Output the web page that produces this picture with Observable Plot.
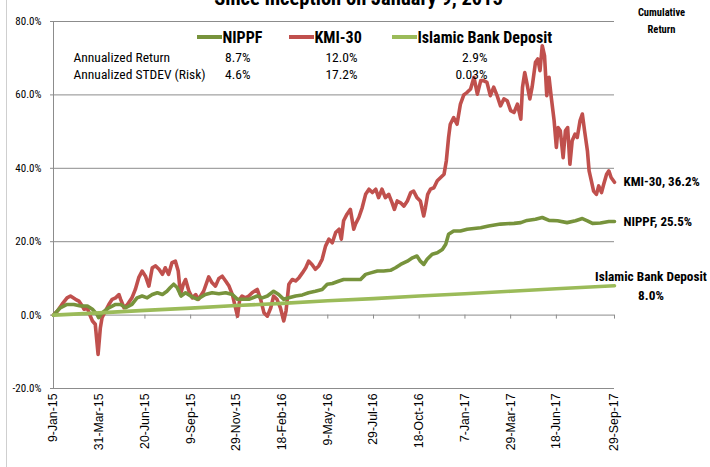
<!DOCTYPE html>
<html><head><meta charset="utf-8">
<script src="https://cdn.jsdelivr.net/npm/d3@7"></script>
<script src="https://cdn.jsdelivr.net/npm/@observablehq/plot@0.6"></script>
<style>
body{margin:0;background:#fff;}
#chart{position:relative;width:710px;height:467px;overflow:hidden;background:#fff;}
</style></head><body><div id="chart"></div>
<script>
// ---------- data ----------
const titleText = "Since Inception on January 9, 2015";
const cornerText = "Cumulative\nReturn";
const startDate = "9-Jan-15";
const tickLabels = ["9-Jan-15","31-Mar-15","20-Jun-15","9-Sep-15","29-Nov-15","18-Feb-16","9-May-16","29-Jul-16","18-Oct-16","7-Jan-17","29-Mar-17","18-Jun-17","29-Sep-17"];
const yTicks = [-20, 0, 20, 40, 60, 80];
const seriesNames = ["NIPPF", "KMI-30", "Islamic Bank Deposit"];
const seriesColors = ["#77933C", "#C0504D", "#9BBB59"];
const rowLabels = ["Annualized Return", "Annualized STDEV (Risk)"];
const annualizedReturn = ["8.7%", "12.0%", "2.9%"];
const annualizedStdev = ["4.6%", "17.2%", "0.03%"];
const finalValues = [25.5, 36.2, 8.0];

// days since inception / cumulative return (%)
const kmiDays = [0,7,15,24,30,39,45,51,54,60,64,69,74,79,83,86,92,98,104,110,116,119,125,131,139,145,151,157,163,169,175,181,187,193,198,204,210,216,221,225,230,234,240,246,252,257,266,275,281,287,293,299,305,311,317,321,326,330,334,340,346,352,361,367,373,379,385,390,396,402,408,412,417,423,429,435,441,447,452,458,464,470,476,482,488,494,500,506,510,514,520,526,532,535,541,547,553,559,565,571,576,582,588,594,600,604,609,615,621,627,633,638,644,650,656,659,663,668,674,680,686,692,696,700,703,709,715,721,727,733,739,745,751,757,762,768,774,780,786,792,798,804,810,816,822,828,831,835,839,844,848,854,858,862,866,870,874,878,882,887,891,894,898,903,907,911,915,919,924,928,933,937,941,946,949,953,957,962,966,971,975,980,984,988,994];
const kmiValues = [0,1.1,2.9,4.7,5.2,4.3,3.8,2.5,1.6,2.0,0.2,-1.6,-2.5,-10.7,-3.5,-0.7,1.1,2.9,4.3,4.7,5.6,4.3,2.0,2.9,4.7,7.0,10.2,12.0,10.6,7.9,12.9,13.4,12.5,11.1,12.9,11.1,14.3,14.7,12.0,5.6,8.4,9.7,6.5,4.7,5.6,4.3,6.5,10.4,8.8,7.9,10.0,10.6,9.3,7.9,5.6,2.9,-0.3,4.3,5.2,4.7,5.2,6.1,7.0,4.3,0.6,-0.3,2.0,5.2,4.3,2.0,-1.6,1.1,8.4,9.7,9.3,10.2,11.5,12.9,14.7,13.8,12.5,13.4,15.2,18.8,20.7,19.7,22.5,23.4,20.7,25.7,27.5,28.8,23.4,24.8,26.6,29.3,32.9,34.3,33.4,34.3,32.0,34.3,32.0,32.9,30.6,28.8,31.1,30.6,29.7,31.1,33.4,33.8,32.0,31.1,27.0,29.3,32.9,34.3,34.7,36.6,37.5,38.4,42.0,48.4,52.0,53.8,52.0,57.5,60.0,60.7,61.6,64.8,60.2,63.9,63.9,63.4,59.8,62.1,59.8,57.0,58.9,58.4,55.7,55.2,57.5,53.4,62.1,66.1,63.0,58.9,62.1,68.9,69.8,66.6,73.4,70.7,59.8,64.8,59.3,53.0,45.7,51.1,50.2,42.9,50.2,51.1,41.1,47.5,49.3,48.4,53.0,54.8,50.2,44.8,39.3,36.6,33.8,32.9,35.2,33.4,35.7,38.4,39.3,37.5,36.2];

const nippfDays = [0,12,24,36,48,60,69,77,80,86,98,110,119,128,139,148,157,166,175,184,193,201,207,213,219,226,234,243,255,269,281,293,305,317,326,334,346,361,370,379,390,399,408,417,429,441,452,464,476,485,494,506,514,526,544,553,562,574,585,597,606,615,627,636,644,650,656,662,671,680,689,695,700,709,721,733,745,757,771,792,816,828,839,854,866,878,893,910,925,937,946,955,969,984,994];
const nippfValues = [0,2.0,2.9,2.9,2.5,2.5,1.6,0.2,-0.7,0.6,2.0,2.9,2.9,2.0,2.9,4.7,5.2,4.7,5.6,6.1,5.6,6.5,7.5,8.4,7.5,5.2,6.1,5.2,4.3,5.6,6.1,5.8,6.1,5.6,4.3,4.3,4.3,5.2,4.7,5.2,6.5,5.6,4.3,4.7,5.2,5.5,6.1,6.5,7.0,8.4,8.6,9.3,9.7,9.7,9.7,11.1,11.5,12.0,12.0,12.2,12.9,13.8,14.7,15.6,16.1,14.7,13.8,15.2,16.6,17.0,17.9,19.3,22.0,22.9,22.9,23.4,23.6,23.8,24.3,24.8,25.0,25.2,25.8,26.1,26.6,25.8,25.7,25.2,25.7,26.3,25.7,25.0,25.1,25.5,25.5];

const depositDays = [0,81,162,243,324,405,486,567,648,729,810,891,994];
const depositValues = [0,0.6,1.3,1.9,2.6,3.2,3.9,4.5,5.2,5.8,6.5,7.2,8.0];

// ---------- build ----------
const parse = d3.utcParse("%d-%b-%y");
const x0 = parse(startDate);
const toDate = d => d3.utcDay.offset(x0, d);
const rows = (days, vals) => days.map((d, i) => ({date: toDate(d), value: vals[i]}));
const seriesData = [rows(nippfDays, nippfValues), rows(kmiDays, kmiValues), rows(depositDays, depositValues)];
const tickDates = tickLabels.map(parse);
const labelOf = new Map(tickDates.map((d, i) => [+d, tickLabels[i]]));
const lastDate = tickDates[tickDates.length - 1];

const W = 710, H = 467, ML = 53, MR = 96, MT = 21, MB = 79;
const grid = "#8c8c8c";
const narrow = "'Liberation Sans Narrow', 'Arial Narrow', 'Roboto Condensed', sans-serif";
const at = (px, py) => ({frameAnchor: "top-left", dx: px - ML, dy: py - MT});

const legendSwatchX = [197, 289, 392];
const swatchLen = 25;
const tableColRight = [250, 357, 487];

const marks = [
  Plot.ruleY(yTicks, {stroke: grid, strokeWidth: 1}),
  Plot.ruleX([tickDates[0]], {stroke: grid}),
  Plot.ruleX(tickDates, {y1: 0, y2: 0, insetBottom: -4, stroke: grid}),
  Plot.axisY({ticks: yTicks, tickFormat: d => d.toFixed(1) + "%", tickSize: 3, tickPadding: 9, fontSize: 11, stroke: grid, fill: "#000", label: null}),
  Plot.axisX({ticks: tickDates, tickFormat: d => labelOf.get(+d), tickRotate: -90, tickSize: 0, tickPadding: 5, fontSize: 12.3, fontFamily: "'Liberation Sans', Arial, sans-serif", fill: "#000", label: null}),
  Plot.line(seriesData[1], {x: "date", y: "value", stroke: seriesColors[1], strokeWidth: 3.6, strokeLinejoin: "round"}),
  Plot.line(seriesData[0], {x: "date", y: "value", stroke: seriesColors[0], strokeWidth: 3.6, strokeLinejoin: "round"}),
  Plot.line(seriesData[2], {x: "date", y: "value", stroke: seriesColors[2], strokeWidth: 3.6, strokeLinejoin: "round"}),
  // title (cut at top) and corner label
  Plot.text([titleText], {...at(358, 4), textAnchor: "middle", lineAnchor: "bottom", fontSize: 20.5, fontWeight: "bold", fill: "#000"}),
  Plot.text([cornerText], {...at(661, 19), textAnchor: "middle", lineAnchor: "middle", fontSize: 10.5, fontWeight: "bold", lineHeight: 1.6, fill: "#000"}),
  // legend swatches and chart-area border
  () => {
    const g = d3.create("svg:g");
    seriesNames.forEach((s, i) => g.append("line")
      .attr("x1", legendSwatchX[i]).attr("x2", legendSwatchX[i] + swatchLen)
      .attr("y1", 37).attr("y2", 37)
      .attr("stroke", seriesColors[i]).attr("stroke-width", 4));
    g.append("line").attr("x1", 6.5).attr("x2", 6.5).attr("y1", 0).attr("y2", H).attr("stroke", "#cfcfcf");
    return g.node();
  },
  ...seriesNames.map((s, i) => Plot.text([s], {...at(legendSwatchX[i] + swatchLen, 37), textAnchor: "start", lineAnchor: "middle", fontSize: 16, fontWeight: "bold", fill: "#000"})),
  // stats table
  ...rowLabels.map((r, j) => Plot.text([r], {...at(73, 57 + j * 17.5), textAnchor: "start", lineAnchor: "middle", fontSize: 13.5, fill: "#000"})),
  ...annualizedReturn.map((v, i) => Plot.text([v], {...at(tableColRight[i], 57), textAnchor: "end", lineAnchor: "middle", fontSize: 13.5, fill: "#000"})),
  ...annualizedStdev.map((v, i) => Plot.text([v], {...at(tableColRight[i], 74.5), textAnchor: "end", lineAnchor: "middle", fontSize: 13.5, fill: "#000"})),
  // end labels
  Plot.text([0, 1], {x: () => lastDate, y: i => finalValues[i], text: i => `${seriesNames[i]}, ${finalValues[i].toFixed(1)}%`, dx: 9, textAnchor: "start", lineAnchor: "middle", fontSize: 13, fontWeight: "bold", fill: "#000"}),
  Plot.text([seriesNames[2]], {x: () => lastDate, y: () => finalValues[2], dx: 36.5, dy: -9, textAnchor: "middle", lineAnchor: "middle", fontSize: 13.3, fontWeight: "bold", fill: "#000"}),
  Plot.text([finalValues[2].toFixed(1) + "%"], {x: () => lastDate, y: () => finalValues[2], dx: 36.5, dy: 10, textAnchor: "middle", lineAnchor: "middle", fontSize: 13.3, fontWeight: "bold", fill: "#000"})
];

const chart = Plot.plot({
  width: W, height: H,
  marginLeft: ML, marginRight: MR, marginTop: MT, marginBottom: MB,
  x: {type: "utc", domain: [tickDates[0], lastDate]},
  y: {domain: [-20, 80]},
  style: {fontFamily: narrow, background: "#fff", color: "#000"},
  marks
});
document.getElementById("chart").appendChild(chart);
</script></body></html>
